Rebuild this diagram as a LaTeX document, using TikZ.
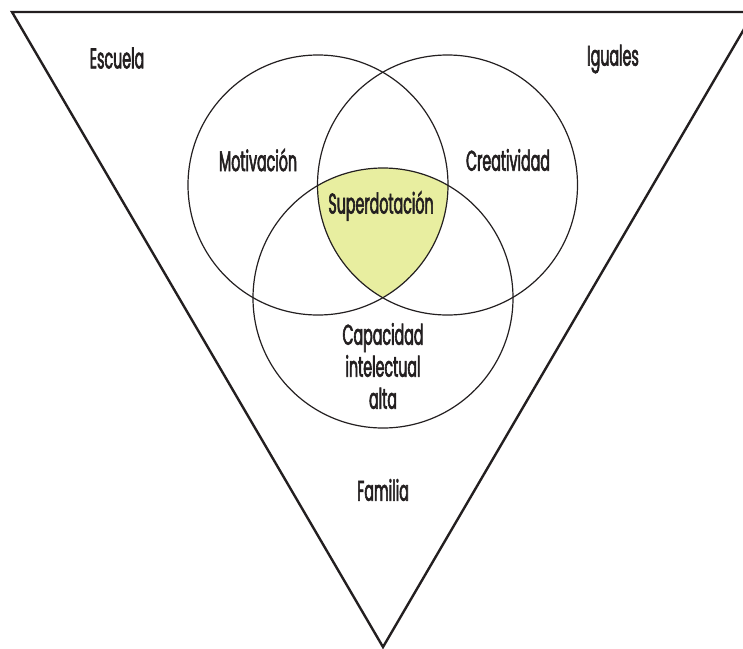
\documentclass[tikz,border=0pt]{standalone}
\usepackage{fontspec}
\setmainfont{Poppins}[FakeStretch=0.5, FakeBold=2]
\definecolor{inkc}{RGB}{35,31,32}
\definecolor{superc}{RGB}{232,238,160}
\begin{document}
\begin{tikzpicture}[x=1pt,y=-1pt,
  lbl/.style={font=\fontsize{28.5}{32}\selectfont, text=inkc, inner sep=0pt, align=center},
  circ/.style={draw=inkc, line width=1.2pt},
  tri/.style={draw=inkc, line width=2.4pt, line join=miter}]
\useasboundingbox (0,0) rectangle (743,648);
\clip (0,0) rectangle (743,648);
\coordinate (cl) at (318,185);
\coordinate (cr) at (447.5,185);
\coordinate (cb) at (383,298);
\coordinate (t1) at (12,12);
\coordinate (t2) at (754,12);
\coordinate (t3) at (383,647);
\draw[tri] (t1) -- (t2) -- (t3) -- cycle;
\begin{scope}
  \clip (cl) circle (130);
  \clip (cr) circle (130);
  \fill[superc] (cb) circle (130);
\end{scope}
\draw[circ] (cl) circle (130);
\draw[circ] (cr) circle (130);
\draw[circ] (cb) circle (130);
\node[lbl] (esc) at (117,58) {Escuela};
\node[lbl] (igu) at (613,59) {Iguales};
\node[lbl] (mot) at (258,160) {Motivación};
\node[lbl] (cre) at (508,160) {Creatividad};
\node[lbl] (sup) at (381,206) {Superdotación};
\node[lbl] (cap) at (383,366) {Capacidad\\intelectual\\alta};
\node[lbl] (fam) at (383,490) {Familia};
\end{tikzpicture}
\end{document}
